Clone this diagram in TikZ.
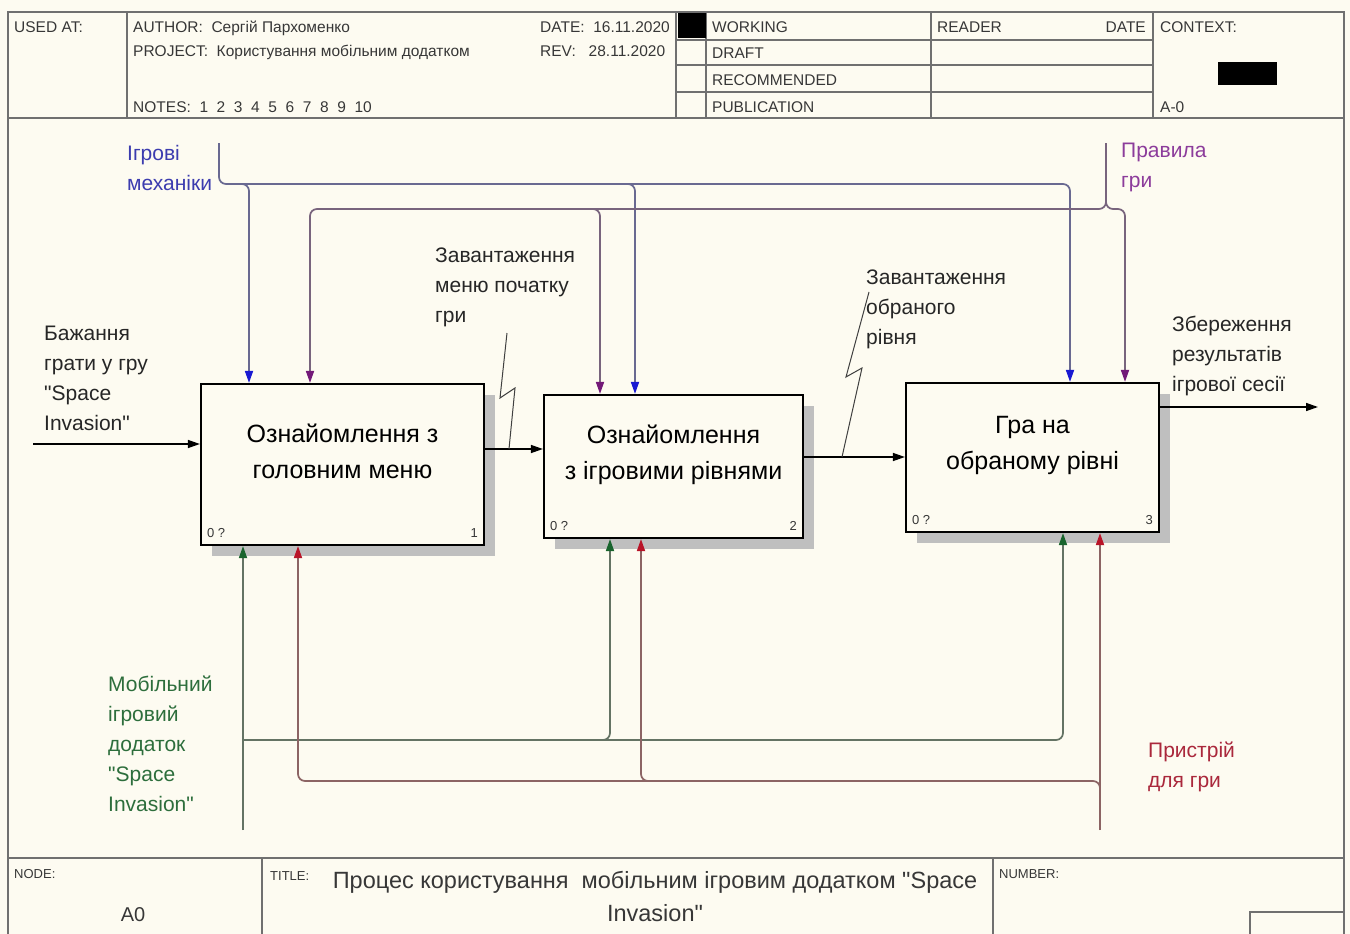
\documentclass[tikz,border=0pt]{standalone}
\usepackage{fontspec}
\setmainfont{Liberation Sans}
\newfontfamily\plainsans{Liberation Sans}
\usetikzlibrary{arrows.meta,shadows,calc}
\definecolor{bg}{RGB}{253,251,241}
\definecolor{frame}{RGB}{112,112,112}
\definecolor{hdr}{RGB}{55,55,55}
\definecolor{cblue}{RGB}{25,25,210}
\definecolor{tblue}{RGB}{60,60,175}
\definecolor{wblue}{RGB}{105,105,145}
\definecolor{cpurple}{RGB}{115,25,120}
\definecolor{tpurple}{RGB}{140,60,155}
\definecolor{wpurple}{RGB}{120,100,125}
\definecolor{cgreen}{RGB}{25,100,45}
\definecolor{tgreen}{RGB}{45,110,60}
\definecolor{wgreen}{RGB}{100,115,100}
\definecolor{cred}{RGB}{185,20,40}
\definecolor{tred}{RGB}{170,40,60}
\definecolor{wred}{RGB}{140,100,100}
\tikzset{
  fr/.style={draw=frame, line width=1.6pt},
  hdrtxt/.style={font=\plainsans\fontsize{15.5}{18}\selectfont, text=hdr, inner sep=0pt, anchor=base west},
  smalltxt/.style={font=\plainsans\fontsize{13}{15}\selectfont, text=hdr, inner sep=0pt, anchor=base west},
  procbox/.style={draw=black, line width=2.2pt, fill=bg,
    drop shadow={shadow xshift=11pt, shadow yshift=-11pt, fill=gray!50, opacity=1}},
  boxtxt/.style={font=\plainsans\fontsize{25}{36}\selectfont, align=center, inner sep=0pt},
  cornertxt/.style={font=\plainsans\fontsize{13}{15}\selectfont, text=hdr, inner sep=0pt},
  lbl/.style={font=\plainsans\fontsize{21}{30}\selectfont, align=left, inner sep=0pt, anchor=base west},
  blk/.style={draw=black, line width=1.5pt, -{Triangle[length=12pt,width=8pt]}},
  squig/.style={draw=black!75, line width=1pt},
  wire/.style={line width=1.7pt, rounded corners=7pt},
  tipb/.style={-{Triangle[length=12pt,width=8pt,color=cblue]}},
  tipp/.style={-{Triangle[length=12pt,width=8pt,color=cpurple]}},
  tipg/.style={-{Triangle[length=12pt,width=8pt,color=cgreen]}},
  tipr/.style={-{Triangle[length=12pt,width=8pt,color=cred]}},
}
\begin{document}
\begin{tikzpicture}[x=1pt,y=-1pt]
\fill[bg] (0,0) rectangle (1350,934);
\useasboundingbox (0,0) rectangle (1350,934);
% ---------- frame ----------
\draw[fr] (8,934) -- (8,12) -- (1344,12) -- (1344,934);
\draw[fr] (8,118) -- (1344,118);
\draw[fr] (8,858) -- (1344,858);
\foreach \x in {127,676,706,931,1153} \draw[fr] (\x,12) -- (\x,118);
\foreach \y in {40,65,92} \draw[fr] (676,\y) -- (1153,\y);
\draw[fr] (262,858) -- (262,934);
\draw[fr] (993,858) -- (993,934);
\draw[fr] (1250,934) -- (1250,912) -- (1344,912);
\fill[black] (678,13) rectangle (706,38);
\fill[black] (1218,62) rectangle (1277,85);
% ---------- header texts ----------
\node[hdrtxt] (usedat) at (14,33) {USED AT:};
\node[hdrtxt] (author) at (133,33) {AUTHOR:\ \ Сергій Пархоменко};
\node[hdrtxt] (project) at (133,57) {PROJECT:\ \ Користування мобільним додатком};
\node[hdrtxt] (notes) at (133,112) {NOTES:\ \ 1\ \ 2\ \ 3\ \ 4\ \ 5\ \ 6\ \ 7\ \ 8\ \ 9\ \ 10};
\node[hdrtxt] (date) at (540,33) {DATE:\ \ 16.11.2020};
\node[hdrtxt] (rev) at (540,57) {REV:\ \ \ 28.11.2020};
\node[hdrtxt] (working) at (712,33) {WORKING};
\node[hdrtxt] (draft) at (712,59) {DRAFT};
\node[hdrtxt] (recom) at (712,85) {RECOMMENDED};
\node[hdrtxt] (publ) at (712,112) {PUBLICATION};
\node[hdrtxt] (reader) at (937,33) {READER};
\node[hdrtxt, anchor=base east] (rdate) at (1146,33) {DATE};
\node[hdrtxt] (context) at (1160,33) {CONTEXT:};
\node[hdrtxt] (azero) at (1160,112) {A-0};
% ---------- footer texts ----------
\node[smalltxt] (nodelbl) at (14,878) {NODE:};
\node[font=\plainsans\fontsize{20}{24}\selectfont, text=hdr, inner sep=0pt, anchor=base] (nodeval) at (133,921) {A0};
\node[smalltxt] (titlelbl) at (270,880) {TITLE:};
\node[font=\plainsans\fontsize{23.5}{33}\selectfont, text=hdr, inner sep=0pt, align=center, anchor=base] (title) at (655,921)
  {Процес користування\ \ мобільним ігровим додатком "Space\\Invasion"};
\node[smalltxt] (numberlbl) at (999,878) {NUMBER:};
% ---------- boxes ----------
\node[procbox, minimum width=283pt, minimum height=161pt] (b1) at (342.5,464.5) {};
\node[procbox, minimum width=259pt, minimum height=143pt] (b2) at (673.5,466.5) {};
\node[procbox, minimum width=253pt, minimum height=149pt] (b3) at (1032.5,457.5) {};
\node[boxtxt] (t1) at (342.5,451) {Ознайомлення з\\головним меню};
\node[boxtxt] (t2) at (673.5,454.5) {Ознайомлення\\з ігровими рівнями};
\node[boxtxt] (t3) at (1032.5,445.5) {Гра на\\обраному рівні};
\node[cornertxt, anchor=base west] (k1a) at ($(b1.south west)+(7,-9)$) {0 ?};
\node[cornertxt, anchor=base east] (k1b) at ($(b1.south east)+(-7,-9)$) {1};
\node[cornertxt, anchor=base west] (k2a) at ($(b2.south west)+(7,-9)$) {0 ?};
\node[cornertxt, anchor=base east] (k2b) at ($(b2.south east)+(-7,-9)$) {2};
\node[cornertxt, anchor=base west] (k3a) at ($(b3.south west)+(7,-9)$) {0 ?};
\node[cornertxt, anchor=base east] (k3b) at ($(b3.south east)+(-7,-9)$) {3};
% ---------- labels (anchor = baseline of last line) ----------
\node[lbl, text=black!85] (lin) at (44,430) {Бажання\\грати у гру\\"Space\\Invasion"};
\node[lbl, text=black!85] (l12) at (435,322) {Завантаження\\меню початку\\гри};
\node[lbl, text=black!85] (l23) at (866,344) {Завантаження\\обраного\\рівня};
\node[lbl, text=black!85] (lout) at (1172,391) {Збереження\\результатів\\ігрової сесії};
\node[lbl, text=tblue] (lmech) at (127,190) {Ігрові\\механіки};
\node[lbl, text=tpurple] (lrules) at (1121,187) {Правила\\гри};
\node[lbl, text=tgreen] (lapp) at (108,811) {Мобільний\\ігровий\\додаток\\"Space\\Invasion"};
\node[lbl, text=tred] (ldev) at (1148,787) {Пристрій\\для гри};
% ---------- inputs / outputs ----------
\coordinate (src) at (33,444);
\draw[blk] (src) -- (src -| b1.west);
\coordinate (y12) at (0,449);
\draw[blk] (b1.east |- y12) -- (b2.west |- y12);
\coordinate (y23) at (0,457);
\draw[blk] (b2.east |- y23) -- (b3.west |- y23);
\coordinate (sink) at (1318,407);
\draw[blk] (b3.east |- sink) -- (sink);
% squiggles
\coordinate (s1) at (507,333);
\coordinate (j1) at (509,449);
\draw[squig] (s1) -- (500,398) -- (515,388) -- (j1);
\coordinate (s2) at (869,292);
\coordinate (j2) at (842,457);
\draw[squig] (s2) -- (846,377) -- (862,368) -- (j2);
% ---------- controls: blue ----------
\coordinate (mechsrc) at (219,143);
\draw[wire, draw=wblue, tipb] (mechsrc) -- (219,184) -- (1070,184) -- (1070,0 |- b3.north);
\draw[wire, draw=wblue, tipb] (240,184) -- (249,184) -- (249,0 |- b1.north);
\draw[wire, draw=wblue, tipb] (626,184) -- (635,184) -- (635,0 |- b2.north);
% ---------- controls: purple ----------
\coordinate (rulesrc) at (1106,143);
\draw[wire, draw=wpurple] (rulesrc) -- (1106,196);
\draw[wire, draw=wpurple, tipp] (1106,195) |- (310,209) -- (310,0 |- b1.north);
\draw[wire, draw=wpurple, tipp] (1106,195) |- (1125,209) -- (1125,0 |- b3.north);
\draw[wire, draw=wpurple, tipp] (591,209) -- (600,209) -- (600,0 |- b2.north);
% ---------- mechanisms: green ----------
\coordinate (appsrc) at (243,830);
\draw[wire, draw=wgreen, tipg] (appsrc) -- (243,0 |- b1.south);
\draw[wire, draw=wgreen, tipg] (243,740) -- (1063,740) -- (1063,0 |- b3.south);
\draw[wire, draw=wgreen, tipg] (601,740) -- (610,740) -- (610,0 |- b2.south);
% ---------- mechanisms: red ----------
\coordinate (devsrc) at (1100,830);
\draw[wire, draw=wred, tipr] (devsrc) -- (1100,0 |- b3.south);
\draw[wire, draw=wred, tipr] (1100,790) -- (1100,781) -- (298,781) -- (298,0 |- b1.south);
\draw[wire, draw=wred, tipr] (650,781) -- (641,781) -- (641,0 |- b2.south);
\end{tikzpicture}
\end{document}
